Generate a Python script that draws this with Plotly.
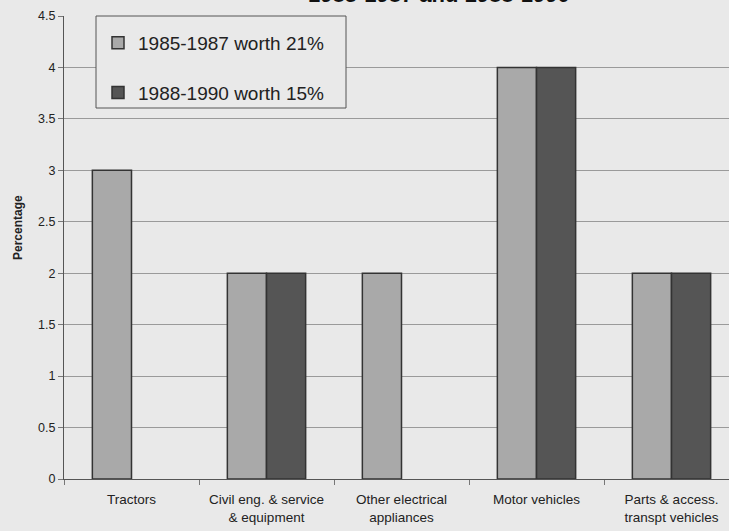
import plotly.graph_objects as go

categories = ["Tractors", "Civil eng. & service<br>& equipment", "Other electrical<br>appliances",
              "Motor vehicles", "Parts & access.<br>transpt vehicles"]
series_1985 = [3, 2, 2, 4, 2]
series_1988 = [None, 2, None, 4, 2]
name_1985 = "1985-1987 worth 21%"
name_1988 = "1988-1990 worth 15%"
y_ticks = [0, 0.5, 1, 1.5, 2, 2.5, 3, 3.5, 4, 4.5]
title_text = "1985-1987 and 1988-1990"

BG = "#e9e9e9"
FONT = "Liberation Sans, Arial, sans-serif"

fig = go.Figure()
fig.add_trace(go.Bar(x=categories, y=series_1985, name=name_1985, legendgroup="a",
                     marker=dict(color="#a9a9a9", line=dict(color="#333333", width=1.5))))
fig.add_trace(go.Bar(x=categories, y=series_1988, name=name_1988, legendgroup="b",
                     marker=dict(color="#555555", line=dict(color="#333333", width=1.5))))

L, T, B = 64, 16, 52
W, H = 729, 531
plot_w = W - L
plot_h = H - T - B
cat_px = 135.0
xr = [-0.5, -0.5 + plot_w / cat_px]

fig.update_layout(
    width=W, height=H,
    margin=dict(l=L, r=0, t=T, b=B),
    paper_bgcolor=BG, plot_bgcolor=BG,
    barmode="group", bargap=0.42, bargroupgap=0,
    font=dict(family=FONT, color="#222222", size=12),
    showlegend=True,
    legend=dict(x=(98 - L) / plot_w, y=1 - 8 / plot_h, xanchor="left", yanchor="top",
                bgcolor="rgba(0,0,0,0)", borderwidth=0,
                font=dict(size=19, family=FONT, color="#222222"),
                tracegroupgap=22, traceorder="grouped", itemwidth=30),
    xaxis=dict(range=xr, showline=True, linecolor="#555555", linewidth=1,
               ticks="outside", ticklen=5, tickcolor="#777777", tickson="boundaries",
               ticklabelstandoff=8,
               tickfont=dict(size=13.5, family=FONT, color="#222222"), showgrid=False,
               zeroline=False),
    yaxis=dict(range=[0, 4.5], tickvals=y_ticks, showline=True, linecolor="#555555",
               linewidth=1, ticks="outside", ticklen=5, tickcolor="#777777",
               tickfont=dict(size=12.5, family=FONT, color="#222222"),
               showgrid=True, gridcolor="#9a9a9a", gridwidth=1, zeroline=False),
    shapes=[dict(type="rect", xref="paper", yref="paper",
                 x0=(96 - L) / plot_w, x1=(346 - L) / plot_w,
                 y0=(H - B - 108) / plot_h, y1=1,
                 fillcolor=BG, line=dict(color="#555555", width=1), layer="above")],
    annotations=[
        dict(text="<b>Percentage</b>", xref="paper", yref="paper", x=0, xshift=-55,
             y=(H - B - 228) / plot_h, textangle=-90, showarrow=False,
             font=dict(size=12, family=FONT, color="#222222")),
        dict(text="<b>" + title_text + "</b>", xref="paper", yref="paper",
             x=(439 - L) / plot_w, y=1, yanchor="bottom", yshift=7, showarrow=False,
             font=dict(size=22, family=FONT, color="#111111")),
    ],
)

fig.write_html("out.html", config={"displayModeBar": False},
               post_script="document.body.style.margin='0';document.body.style.overflow='hidden';")
